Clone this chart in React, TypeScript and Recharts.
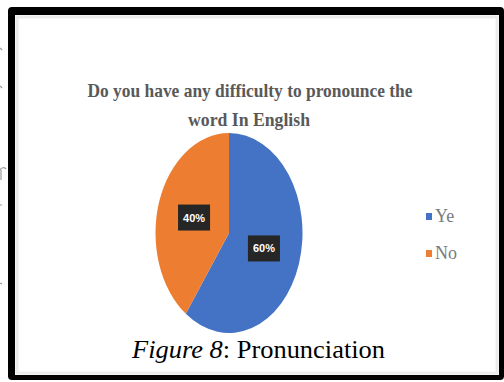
import { Cell, Legend, Pie, PieChart } from "recharts";

const categories = ["Ye", "No"];
const shares = [60, 40];
const sliceColors = ["#4472C4", "#ED7D31"];
const titleLines = ["Do you have any difficulty to pronounce the", "word In English"];

const data = categories.map((name, i) => ({ name, value: shares[i] }));

const RAD = Math.PI / 180;
// the scanned pie is squashed into an upright ellipse
const STRETCH = 1.36;

function EllipseSector(props: any) {
  const { cx, cy, outerRadius, startAngle, endAngle, fill } = props;
  const rx = outerRadius;
  const ry = outerRadius * STRETCH;
  const pt = (a: number) => [cx + rx * Math.cos(a * RAD), cy - ry * Math.sin(a * RAD)];
  const [x0, y0] = pt(startAngle);
  const [x1, y1] = pt(endAngle);
  const large = Math.abs(endAngle - startAngle) > 180 ? 1 : 0;
  const sweep = startAngle > endAngle ? 1 : 0;
  return (
    <path
      d={`M${cx},${cy} L${x0},${y0} A${rx},${ry} 0 ${large} ${sweep} ${x1},${y1} Z`}
      fill={fill}
      stroke="none"
    />
  );
}

function renderLabel(props: any) {
  const { cx, cy, midAngle, outerRadius, percent } = props;
  const x = cx + outerRadius * 0.5 * Math.cos(midAngle * RAD);
  const y = cy - outerRadius * STRETCH * 0.5 * Math.sin(midAngle * RAD);
  return (
    <g>
      <rect x={x - 16} y={y - 13} width={32} height={26} fill="#262626" />
      <text
        x={x}
        y={y + 4}
        textAnchor="middle"
        fill="#ffffff"
        fontSize={11}
        fontWeight="bold"
        fontFamily="'Liberation Sans', Arial, sans-serif"
      >
        {`${Math.round(percent * 100)}%`}
      </text>
    </g>
  );
}

function renderLegend(props: any) {
  const items = [...(props.payload || [])].sort(
    (a: any, b: any) => categories.indexOf(a.value) - categories.indexOf(b.value)
  );
  return (
    <div>
      {items.map((item: any) => (
        <div
          key={item.value}
          style={{
            display: "flex",
            alignItems: "center",
            height: 37,
            fontFamily: "'Liberation Serif', 'Times New Roman', serif",
            fontSize: 18,
            color: "#7a7a7a",
          }}
        >
          <span
            style={{ width: 6, height: 7, background: item.color, marginRight: 3, display: "inline-block" }}
          />
          {item.value}
        </div>
      ))}
    </div>
  );
}

export default function App() {
  return (
    <div style={{ position: "absolute", left: 0, top: 0, width: 504, height: 382, background: "#fff" }}>
      <svg width={504} height={382} style={{ position: "absolute", left: 0, top: 0 }}>
        <rect x={8} y={7} width={496} height={373} rx={4} fill="#000" />
        <rect x={15} y={15} width={484} height={360} fill="#fff" />
        <rect x={17} y={17} width={480} height={356} fill="none" stroke="#ececec" strokeWidth={3} />
        {/* clipped bits of the neighbouring page text */}
        <g stroke="#9a9a9a" strokeWidth={1.2} fill="none">
          <path d="M0,170 Q3,166 6,169" />
          <path d="M1,170 L1,180" />
          <path d="M0,205 L2,205" />
          <path d="M0,48 L2,50" />
          <path d="M0,86 L2,88" />
          <path d="M0,283 L2,284" />
        </g>
        <g
          fontFamily="'Liberation Serif', 'Times New Roman', serif"
          fontWeight="bold"
          fontSize={19}
          fill="#595959"
          textAnchor="middle"
        >
          <text x={250} y={97} textLength={325} lengthAdjust="spacingAndGlyphs">
            {titleLines[0]}
          </text>
          <text x={249} y={126} textLength={122} lengthAdjust="spacingAndGlyphs">
            {titleLines[1]}
          </text>
        </g>
        <text
          x={132}
          y={358}
          fontFamily="'Liberation Serif', 'Times New Roman', serif"
          fontSize={26}
          fill="#000"
          textLength={253}
          lengthAdjust="spacingAndGlyphs"
        >
          <tspan fontStyle="italic">Figure 8</tspan>
          <tspan>: Pronunciation</tspan>
        </text>
      </svg>
      <div style={{ position: "absolute", left: 0, top: 0 }}>
        <PieChart width={504} height={382} margin={{ top: 0, right: 0, bottom: 0, left: 0 }}>
          <Pie
            data={data}
            dataKey="value"
            nameKey="name"
            cx={229}
            cy={233}
            outerRadius={73.5}
            startAngle={90}
            endAngle={-270}
            stroke="none"
            shape={EllipseSector}
            label={renderLabel}
            labelLine={false}
            isAnimationActive={false}
          >
            {data.map((d, i) => (
              <Cell key={d.name} fill={sliceColors[i]} />
            ))}
          </Pie>
          <Legend
            layout="vertical"
            align="right"
            verticalAlign="top"
            content={renderLegend}
            wrapperStyle={{ left: 426, top: 198, width: 60 }}
          />
        </PieChart>
      </div>
    </div>
  );
}
